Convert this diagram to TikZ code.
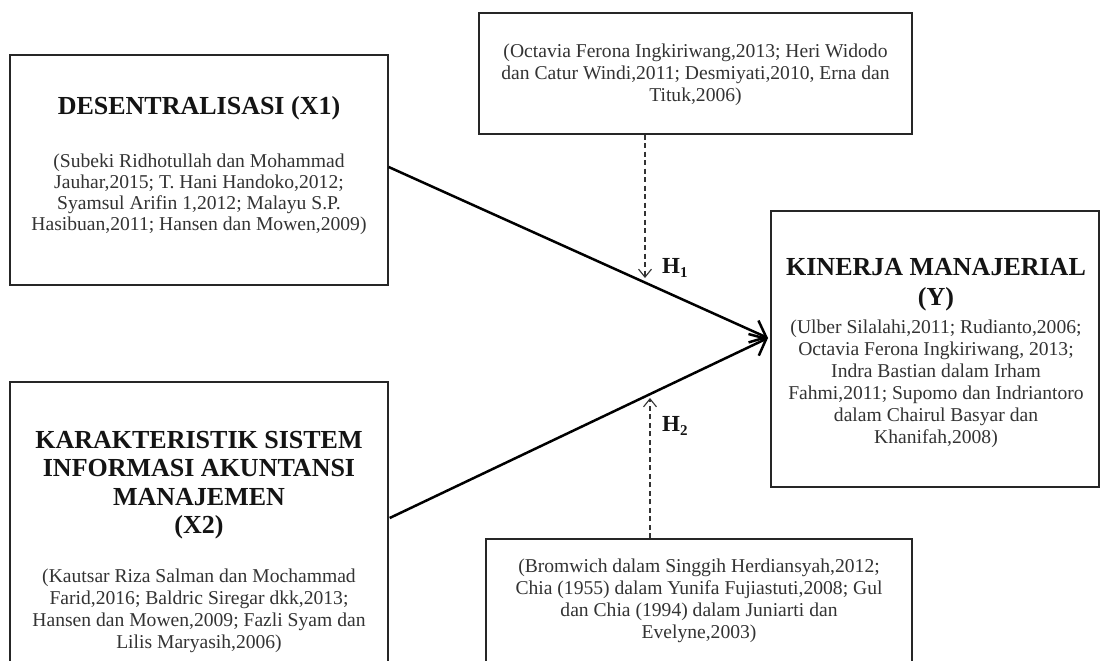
\documentclass[tikz,border=0pt]{standalone}
\usepackage{fontspec}
\setmainfont{Liberation Serif}
\usetikzlibrary{arrows.meta,calc}
\begin{document}
\begin{tikzpicture}[x=1pt,y=-1pt,
  box/.style={draw=black!85, line width=1.4pt, rectangle, inner sep=0pt},
  ttl/.style={font=\fontsize{26}{29}\selectfont\bfseries, align=center, inner sep=0pt, text=black!92},
  cit/.style={font=\fontsize{19.6}{22}\selectfont, align=center, inner sep=0pt, text=black!80},
  hlab/.style={font=\fontsize{23}{23}\selectfont\bfseries, anchor=west, inner sep=0pt, text=black!92},
  mainarrow/.style={line width=2.5pt, -{Straight Barb[length=14pt,width=24pt,line width=2.5pt]}},
  dasharrow/.style={line width=1.1pt, black!80, dash pattern=on 5pt off 3.5pt, -{Straight Barb[length=8pt,width=13pt,line width=1.1pt]}}]
\useasboundingbox (0,0) rectangle (1100,661);
\clip (0,0) rectangle (1100,661);
\fill[white] (0,0) rectangle (1100,661);

% X1
\node[box, minimum width=378, minimum height=230] (x1) at (199,170) {};
\node[ttl] (x1t) at (199,108) {DESENTRALISASI (X1)};
\node[cit, font=\fontsize{19.6}{21}\selectfont] (x1c) at (199,194) {(Subeki Ridhotullah dan Mohammad\\Jauhar,2015; T. Hani Handoko,2012;\\Syamsul Arifin 1,2012; Malayu S.P.\\Hasibuan,2011; Hansen dan Mowen,2009)};

% X2
\node[box, minimum width=378, minimum height=320] (x2) at (199,542) {};
\node[ttl, font=\fontsize{26}{28.5}\selectfont\bfseries] (x2t) at (199,485) {KARAKTERISTIK SISTEM\\INFORMASI AKUNTANSI\\MANAJEMEN\\(X2)};
\node[cit] (x2c) at (199,611) {(Kautsar Riza Salman dan Mochammad\\Farid,2016; Baldric Siregar dkk,2013;\\Hansen dan Mowen,2009; Fazli Syam dan\\Lilis Maryasih,2006)};

% Y
\node[box, minimum width=328, minimum height=276] (y) at (935,349) {};
\node[ttl, font=\fontsize{26}{30}\selectfont\bfseries] (yt) at (936,285) {KINERJA MANAJERIAL\\(Y)};
\node[cit] (yc) at (936,384) {(Ulber Silalahi,2011; Rudianto,2006;\\Octavia Ferona Ingkiriwang, 2013;\\Indra Bastian dalam Irham\\Fahmi,2011; Supomo dan Indriantoro\\dalam Chairul Basyar dan\\Khanifah,2008)};

% top moderator box
\node[box, minimum width=433, minimum height=121] (top) at (695.5,73.5) {};
\node[cit] (topc) at (695.5,75) {(Octavia Ferona Ingkiriwang,2013; Heri Widodo\\dan Catur Windi,2011; Desmiyati,2010, Erna dan\\Tituk,2006)};

% bottom moderator box
\node[box, minimum width=426, minimum height=126] (bot) at (699,602) {};
\node[cit] (botc) at (699,600.5) {(Bromwich dalam Singgih Herdiansyah,2012;\\Chia (1955) dalam Yunifa Fujiastuti,2008; Gul\\dan Chia (1994) dalam Juniarti dan\\Evelyne,2003)};

% main arrows
\coordinate (tip) at (768,338);
\draw[mainarrow] (x1.east |- 0,167) -- (tip);
\draw[mainarrow] ($(x2.east |- 0,518)+(1,0)$) -- (tip);

% dashed moderator arrows
\coordinate (h1) at (645,278);
\coordinate (h2) at (650,398);
\draw[dasharrow] (top.south -| h1) -- (h1);
\draw[dasharrow] (bot.north -| h2) -- (h2);

\node[hlab] (h1l) at (662,268) {H\raisebox{-0.35ex}{\fontsize{15}{15}\selectfont 1}};
\node[hlab] (h2l) at (662,426) {H\raisebox{-0.35ex}{\fontsize{15}{15}\selectfont 2}};
\end{tikzpicture}
\end{document}
